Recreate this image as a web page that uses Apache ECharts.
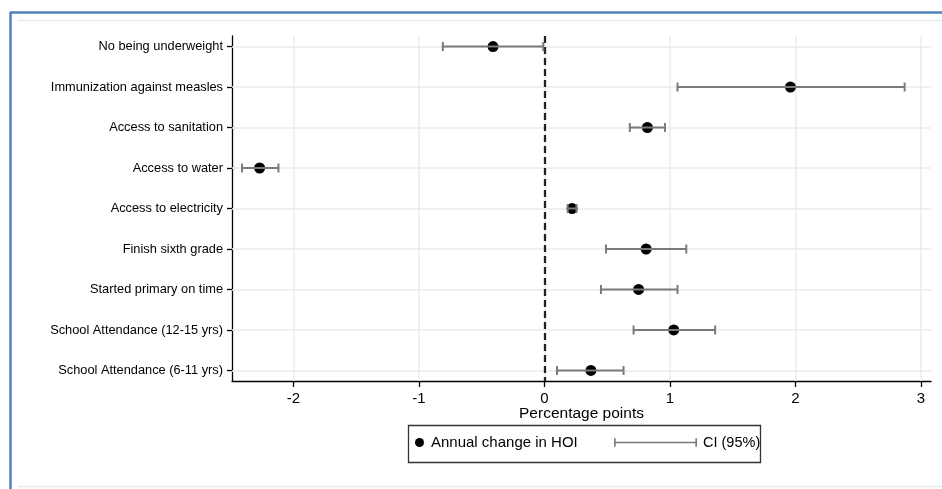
<!DOCTYPE html>
<html>
<head>
<meta charset="utf-8">
<script src="https://cdn.jsdelivr.net/npm/echarts@6/dist/echarts.min.js"></script>
<style>
html,body{margin:0;padding:0;background:#fff;}
#chart{width:942px;height:489px;}
</style>
</head>
<body>
<div id="chart"></div>
<script>
// ---- data ----
const categories = [
  'No being underweight',
  'Immunization against measles',
  'Access to sanitation',
  'Access to water',
  'Access to electricity',
  'Finish sixth grade',
  'Started primary on time',
  'School Attendance (12-15 yrs)',
  'School Attendance (6-11 yrs)'
];
const estimates = [-0.41, 1.96, 0.82, -2.27, 0.22, 0.81, 0.75, 1.03, 0.37];
const ciLow     = [-0.81, 1.06, 0.68, -2.41, 0.185, 0.49, 0.45, 0.71, 0.10];
const ciHigh    = [-0.01, 2.87, 0.96, -2.12, 0.255, 1.13, 1.06, 1.36, 0.63];
const xTicks = [-2, -1, 0, 1, 2, 3];
const rowTicks = [1, 2, 3, 4, 5, 6, 7, 8, 9];
const seriesNames = ['Annual change in HOI', 'CI (95%)'];
const xTitle = 'Percentage points';

// ---- build ----
const pointData = estimates.map((v, i) => [v, i + 1]);
const ciData = ciLow.map((lo, i) => [lo, ciHigh[i], i + 1]);

const chart = echarts.init(document.getElementById('chart'), null, {renderer: 'canvas'});
const FONT = '"Liberation Sans", Arial, sans-serif';
const gridColor = '#e5edf0';
const ciColor = '#7a7a7a';

const option = {
  animation: false,
  backgroundColor: '#ffffff',
  textStyle: {fontFamily: FONT},
  grid: {left: 232, top: 36, right: 11, bottom: 108, containLabel: false},
  xAxis: {
    type: 'value',
    min: -2.49,
    max: 3.08,
    axisLine: {show: true, onZero: false, lineStyle: {color: '#000', width: 1.3}},
    axisTick: {show: true, customValues: xTicks, length: 6, lineStyle: {color: '#000', width: 1.3}},
    axisLabel: {customValues: xTicks, color: '#000', fontSize: 15, margin: 10, fontFamily: FONT},
    splitLine: {show: false},
    name: xTitle,
    nameLocation: 'middle',
    nameGap: 25,
    nameMoveOverlap: false,
    nameTextStyle: {color: '#000', fontSize: 15.5, fontFamily: FONT}
  },
  yAxis: {
    type: 'value',
    inverse: true,
    min: 0.74,
    max: 9.26,
    axisLine: {show: true, onZero: false, lineStyle: {color: '#000', width: 1.3}},
    axisTick: {show: true, customValues: rowTicks, length: 5, lineStyle: {color: '#000', width: 1.3}},
    axisLabel: {
      customValues: rowTicks, color: '#000', fontSize: 12.8, margin: 9, fontFamily: FONT,
      formatter: v => categories[Math.round(v) - 1] || ''
    },
    splitLine: {show: false}
  },
  legend: [
    {
      left: 415, top: 435, padding: 0,
      itemWidth: 9, itemHeight: 9, itemGap: 0,
      textStyle: {fontSize: 15, color: '#000', fontFamily: FONT, padding: [0, 0, 0, 2]},
      data: [{name: seriesNames[0], icon: 'circle'}]
    },
    {
      left: 614, top: 435, padding: 0,
      itemWidth: 83, itemHeight: 9, itemGap: 0,
      textStyle: {fontSize: 14.5, color: '#000', fontFamily: FONT, padding: [0, 0, 0, 1]},
      data: [{name: seriesNames[1], icon: 'path://M0,0L2,0L2,4L98,4L98,0L100,0L100,10L98,10L98,6L2,6L2,10L0,10Z'}]
    }
  ],
  graphic: [
    {type: 'line', shape: {x1: 10.5, y1: 12, x2: 10.5, y2: 489}, style: {stroke: '#4f81bd', lineWidth: 2.5}, z: 100},
    {type: 'line', shape: {x1: 10, y1: 12.5, x2: 942, y2: 12.5}, style: {stroke: '#4f81bd', lineWidth: 2.5}, z: 100},
    {type: 'line', shape: {x1: 18, y1: 20.5, x2: 942, y2: 20.5}, style: {stroke: '#e8eef0', lineWidth: 1.5}, z: 100},
    {type: 'line', shape: {x1: 18, y1: 486.5, x2: 942, y2: 486.5}, style: {stroke: '#e8eef0', lineWidth: 1.5}, z: 100},
    {type: 'rect', shape: {x: 408.5, y: 425.5, width: 352, height: 37}, style: {fill: 'none', stroke: '#333', lineWidth: 1.3}, z: 100}
  ],
  series: [
    {
      // grid lines (under everything)
      type: 'line',
      data: [],
      silent: true,
      z: 1,
      markLine: {
        silent: true,
        z: 1,
        symbol: ['none', 'none'],
        label: {show: false},
        animation: false,
        data: [
          ...xTicks.map(v => ({xAxis: v, lineStyle: {color: gridColor, width: 1.5, type: 'solid'}})),
          ...rowTicks.map(v => ({yAxis: v, lineStyle: {color: gridColor, width: 1.5, type: 'solid'}}))
        ]
      }
    },
    {
      // zero reference line
      type: 'line',
      data: [],
      silent: true,
      z: 2,
      markLine: {
        silent: true,
        z: 2,
        symbol: ['none', 'none'],
        label: {show: false},
        animation: false,
        data: [{xAxis: 0, lineStyle: {color: '#222', width: 2.3, type: [7, 4]}}]
      }
    },
    {
      name: seriesNames[0],
      type: 'scatter',
      z: 3,
      symbol: 'circle',
      symbolSize: 11,
      itemStyle: {color: '#000', opacity: 1},
      data: pointData
    },
    {
      name: seriesNames[1],
      type: 'custom',
      z: 4,
      itemStyle: {color: ciColor},
      data: ciData,
      renderItem: function (params, api) {
        const row = api.value(2);
        const p1 = api.coord([api.value(0), row]);
        const p2 = api.coord([api.value(1), row]);
        const h = 4.5;
        const style = {stroke: ciColor, lineWidth: 2, fill: null};
        return {
          type: 'group',
          children: [
            {type: 'line', shape: {x1: p1[0], y1: p1[1], x2: p2[0], y2: p2[1]}, style: style},
            {type: 'line', shape: {x1: p1[0], y1: p1[1] - h, x2: p1[0], y2: p1[1] + h}, style: style},
            {type: 'line', shape: {x1: p2[0], y1: p2[1] - h, x2: p2[0], y2: p2[1] + h}, style: style}
          ]
        };
      }
    }
  ]
};
chart.setOption(option);
</script>
</body>
</html>
